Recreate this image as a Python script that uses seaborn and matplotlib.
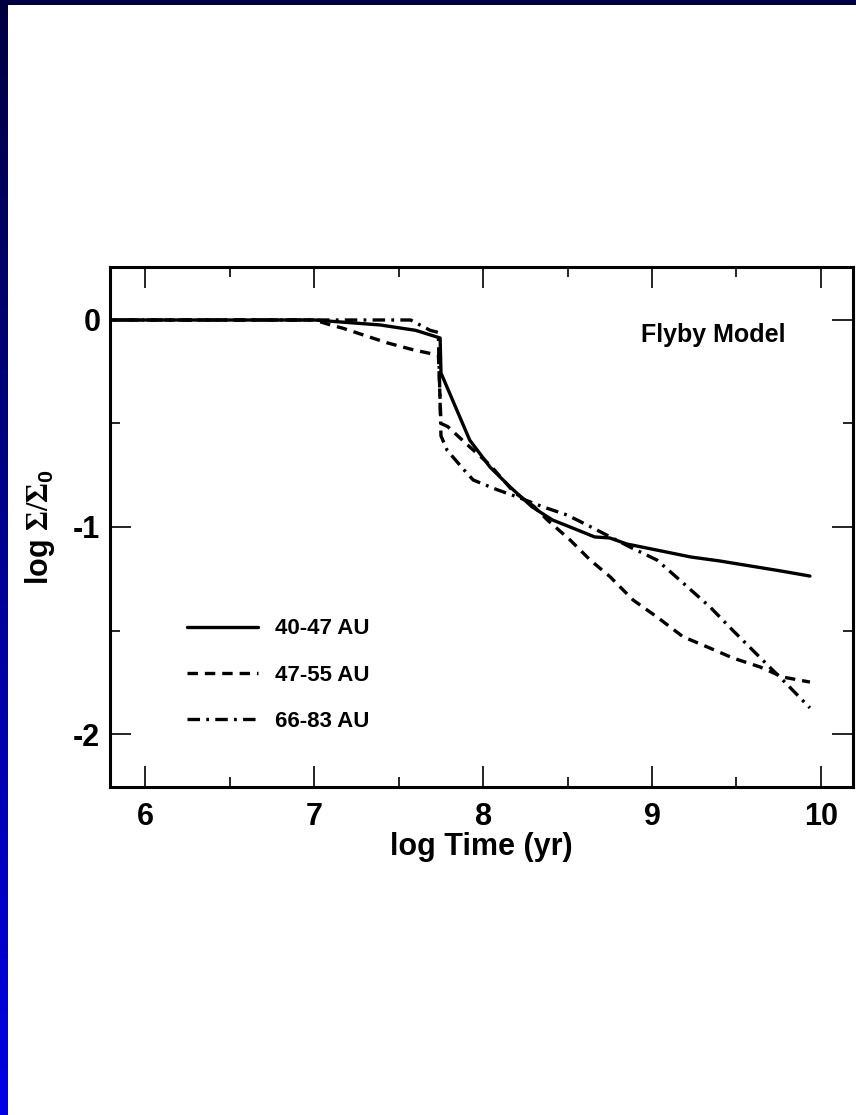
import numpy as np
import pandas as pd
import matplotlib
matplotlib.use("Agg")
import matplotlib.pyplot as plt
from matplotlib.ticker import MultipleLocator
import seaborn as sns

# 40-47 AU (solid)
x_4047 = [5.70, 7.00, 7.39, 7.60, 7.745, 7.75, 7.92, 8.04, 8.16, 8.29, 8.41,
          8.53, 8.66, 8.75, 8.85, 9.08, 9.23, 9.40, 9.58, 9.76, 9.935]
y_4047 = [0.0, 0.0, -0.024, -0.05, -0.087, -0.256, -0.58, -0.71, -0.807, -0.903, -0.966,
          -1.005, -1.048, -1.053, -1.082, -1.12, -1.145, -1.164, -1.188, -1.212, -1.237]

# 47-55 AU (dashed)
x_4755 = [5.70, 7.00, 7.10, 7.17, 7.43, 7.59, 7.735, 7.75, 7.79, 7.92, 8.04, 8.18,
          8.30, 8.38, 8.515, 8.633, 8.751, 8.888, 9.03, 9.183, 9.343, 9.479, 9.639, 9.775, 9.935]
y_4755 = [0.0, 0.0, -0.025, -0.04, -0.11, -0.145, -0.17, -0.50, -0.515, -0.613, -0.70, -0.83,
          -0.90, -0.966, -1.063, -1.159, -1.24, -1.353, -1.435, -1.53, -1.585, -1.633, -1.676, -1.725, -1.749]

# 66-83 AU (dash-dot)
x_6683 = [5.70, 7.00, 7.41, 7.57, 7.686, 7.734, 7.75, 7.787, 7.882, 7.941, 8.083, 8.219,
          8.355, 8.497, 8.651, 8.71, 8.87, 9.03, 9.183, 9.343, 9.479, 9.639, 9.775, 9.935]
y_6683 = [0.0, 0.0, 0.0, 0.0, -0.05, -0.06, -0.56, -0.63, -0.72, -0.773, -0.82, -0.86,
          -0.903, -0.942, -1.005, -1.03, -1.097, -1.16, -1.27, -1.386, -1.5, -1.63, -1.74, -1.874]

labels = ['40-47 AU', '47-55 AU', '66-83 AU']

df = pd.concat([
    pd.DataFrame({'logt': x_4047, 'logsig': y_4047, 'zone': labels[0]}),
    pd.DataFrame({'logt': x_4755, 'logsig': y_4755, 'zone': labels[1]}),
    pd.DataFrame({'logt': x_6683, 'logsig': y_6683, 'zone': labels[2]}),
], ignore_index=True)

sns.set_style('white')
plt.rcParams['font.family'] = ['Liberation Sans', 'DejaVu Sans']
plt.rcParams['font.weight'] = 'bold'
plt.rcParams['text.color'] = 'black'
plt.rcParams['axes.labelcolor'] = 'black'
plt.rcParams['axes.unicode_minus'] = False
plt.rcParams['mathtext.fontset'] = 'custom'
plt.rcParams['mathtext.rm'] = 'Liberation Serif'
plt.rcParams['mathtext.bf'] = 'Liberation Sans:bold'
plt.rcParams['lines.scale_dashes'] = False

fig = plt.figure(figsize=(8.56, 11.15), dpi=100)
fig.patch.set_facecolor('white')

# slide decoration: navy top bar and blue gradient strip on the left
top = fig.add_axes([0, 1 - 5 / 1115, 1, 5 / 1115])
top.set_facecolor('#000040')
top.set_xticks([])
top.set_yticks([])
for s in top.spines.values():
    s.set_visible(False)

side = fig.add_axes([0, 0, 8 / 856, 1])
grad = np.linspace(0, 1, 256).reshape(-1, 1)
cmap = matplotlib.colors.LinearSegmentedColormap.from_list('bl', ['#000040', '#0000e6'])
side.imshow(grad, aspect='auto', cmap=cmap, origin='upper')
side.axis('off')

ax = fig.add_axes([110 / 856, 1 - 787 / 1115, 743 / 856, 520 / 1115])

sns.lineplot(
    data=df, x='logt', y='logsig', style='zone',
    dashes={labels[0]: '', labels[1]: (7.5, 5), labels[2]: (9, 4.5, 2, 4.5)},
    color='black', linewidth=2.4, sort=False, estimator=None, ax=ax
)

ax.set_xlim(5.79, 10.19)
ax.set_ylim(-2.256, 0.256)
ax.xaxis.set_major_locator(MultipleLocator(1))
ax.xaxis.set_minor_locator(MultipleLocator(0.5))
ax.yaxis.set_major_locator(MultipleLocator(1))
ax.yaxis.set_minor_locator(MultipleLocator(0.5))
ax.tick_params(which='both', direction='in', top=True, right=True,
               bottom=True, left=True, width=1.2, colors='black')
ax.tick_params(which='major', length=15)
ax.tick_params(which='minor', length=7)
ax.tick_params(axis='x', which='major', pad=11, labelsize=22)
ax.tick_params(axis='y', which='major', pad=7, labelsize=22)
for s in ax.spines.values():
    s.set_linewidth(2.2)
    s.set_color('black')

ax.set_xlabel('log Time (yr)', fontsize=22, fontweight='bold', labelpad=0)
ax.set_ylabel(r'log $\Sigma/\Sigma_\mathbf{0}$', fontsize=22, fontweight='bold')
ax.yaxis.set_label_coords(-0.0715, 0.5)

ax.text(0.812, 0.87, 'Flyby Model', transform=ax.transAxes,
        ha='center', va='center', fontsize=18, fontweight='bold')

ax.legend(loc='center left', bbox_to_anchor=(0.104, 0.215), frameon=False,
          fontsize=16, handlelength=3.2, handletextpad=0.75, labelspacing=1.14,
          borderpad=0, borderaxespad=0, title=None)

fig.savefig('out.png', dpi=100)
